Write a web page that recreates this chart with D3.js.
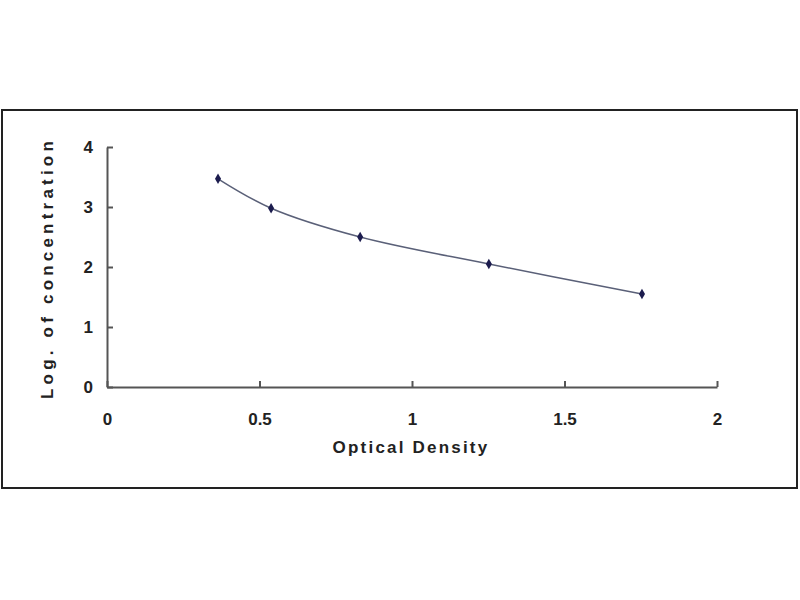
<!DOCTYPE html>
<html lang="en">
<head>
<meta charset="UTF-8">
<title>Standard curve</title>
<script src="https://cdn.jsdelivr.net/npm/d3@7"></script>
<style>
  body { margin: 0; background: #fff; }
  text { font-family: "Liberation Sans", Arial, sans-serif; font-weight: bold; fill: #222; }
</style>
</head>
<body>
<svg id="chart" width="800" height="600"></svg>
<script>
// values
var od = [0.364, 0.538, 0.83, 1.252, 1.754];
var logConc = [3.47, 2.98, 2.5, 2.05, 1.55];
var xTicks = [0, 0.5, 1, 1.5, 2];
var yTicks = [0, 1, 2, 3, 4];

var svg = d3.select("#chart");

// outer frame
svg.append("rect")
  .attr("x", 2).attr("y", 110)
  .attr("width", 795).attr("height", 378)
  .attr("fill", "#fff")
  .attr("stroke", "#222")
  .attr("stroke-width", 2);

var x = d3.scaleLinear().domain([0, 2]).range([107, 717]);
var y = d3.scaleLinear().domain([0, 4]).range([387, 147]);

function styleTicks(g) {
  g.select(".domain").attr("stroke", "#555").attr("stroke-width", 2);
  g.selectAll(".tick line").attr("stroke", "#555").attr("stroke-width", 2);
  g.selectAll(".tick text")
    .style("font-size", "17px")
    .style("font-family", "'Liberation Sans', Arial, sans-serif")
    .style("font-weight", "bold")
    .attr("fill", "#222");
}

// x axis, ticks pointing inward
var xAxis = svg.append("g")
  .attr("transform", "translate(0," + y(0) + ")")
  .call(d3.axisBottom(x).tickValues(xTicks).tickSizeInner(-6).tickSizeOuter(0)
    .tickFormat(d3.format("")));
styleTicks(xAxis);
xAxis.selectAll(".tick text").attr("y", 26);

// y axis, ticks pointing inward
var yAxis = svg.append("g")
  .attr("transform", "translate(" + x(0) + ",0)")
  .call(d3.axisLeft(y).tickValues(yTicks).tickSizeInner(-6).tickSizeOuter(0)
    .tickFormat(d3.format("d")));
styleTicks(yAxis);
yAxis.selectAll(".tick text").attr("x", -14);

// axis titles
svg.append("text")
  .attr("x", 411).attr("y", 453)
  .attr("text-anchor", "middle")
  .style("font-size", "17px")
  .style("letter-spacing", "2.2px")
  .text("Optical Density");

svg.append("text")
  .attr("transform", "translate(53,268) rotate(-90)")
  .attr("text-anchor", "middle")
  .style("font-size", "17px")
  .style("letter-spacing", "4.2px")
  .text("Log. of concentration");

// fitted curve
var pts = od.map(function(d, i) { return [d, logConc[i]]; });
var line = d3.line()
  .x(function(d) { return x(d[0]); })
  .y(function(d) { return y(d[1]); })
  .curve(d3.curveCatmullRom.alpha(0.5));

svg.append("path")
  .datum(pts)
  .attr("d", line)
  .attr("fill", "none")
  .attr("stroke", "#5a6078")
  .attr("stroke-width", 1.5);

// markers
svg.selectAll("path.pt")
  .data(pts)
  .enter().append("path")
  .attr("class", "pt")
  .attr("d", d3.symbol().type(d3.symbolDiamond).size(32))
  .attr("transform", function(d) { return "translate(" + x(d[0]) + "," + y(d[1]) + ")"; })
  .attr("fill", "#1c1c4e");
</script>
</body>
</html>
